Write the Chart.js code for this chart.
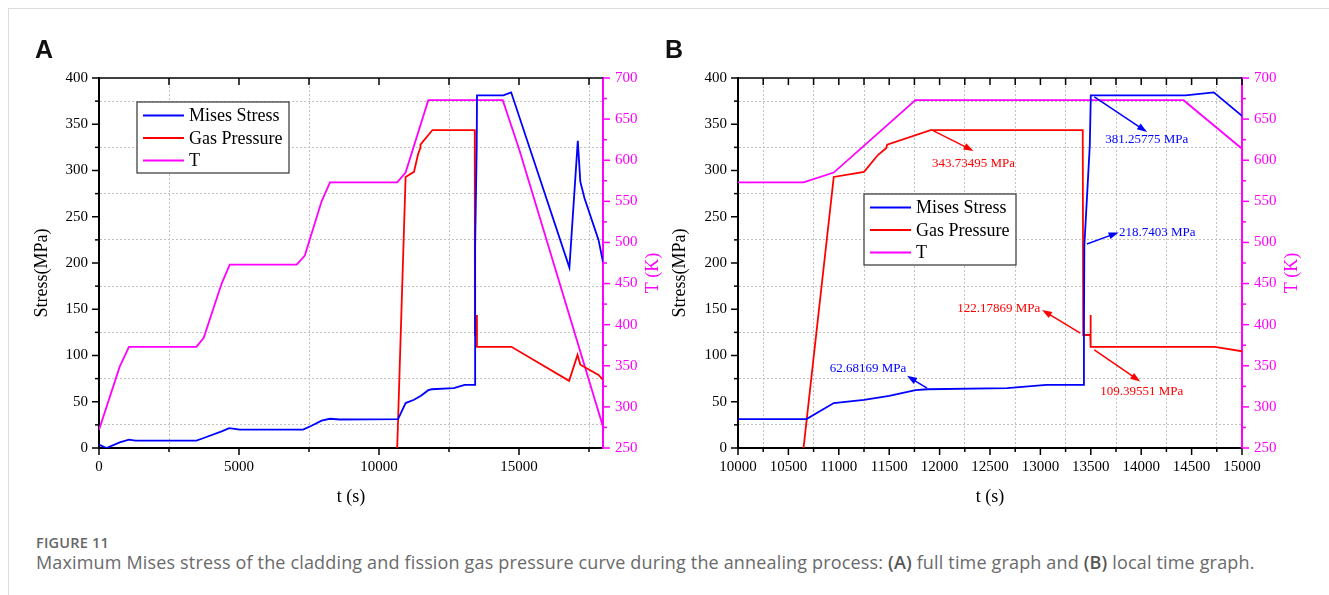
<!DOCTYPE html>
<html>
<head>
<meta charset="utf-8">
<script src="https://cdn.jsdelivr.net/npm/chart.js@4.4.0/dist/chart.umd.min.js"></script>
<style>
  body { margin: 0; background: #fff; width: 1329px; height: 595px; position: relative; overflow: hidden; }
  #frame { position: absolute; left: 8px; top: 8px; right: 0; bottom: 0; border-left: 1px solid #dcdcdc; border-top: 1px solid #dcdcdc; }
  canvas { position: absolute; top: 0; }
  #chartA { left: 0; }
  #chartB { left: 664px; }
  .letter { position: absolute; top: 37px; font: bold 25px "Liberation Sans", Arial, sans-serif; color: #111; line-height: 25px; }
  #figlabel { position: absolute; left: 36px; top: 534px; font: 600 14.5px "Open Sans", sans-serif; color: #666; line-height: 18px; letter-spacing: 0.2px; }
  #caption { position: absolute; left: 36px; top: 550px; font: 18px "Open Sans", sans-serif; color: #6a6a6a; line-height: 24px; white-space: nowrap; letter-spacing: 0.16px; }
  #caption b { color: #555; font-weight: 600; }
</style>
</head>
<body>
<div id="frame"></div>
<canvas id="chartA" width="664" height="520"></canvas>
<canvas id="chartB" width="665" height="520"></canvas>
<div class="letter" style="left:35px">A</div>
<div class="letter" style="left:665px">B</div>
<div id="figlabel">FIGURE 11</div>
<div id="caption">Maximum Mises stress of the cladding and fission gas pressure curve during the annealing process: <b>(A)</b> full time graph and <b>(B)</b> local time graph.</div>
<script>
// Mises stress (MPa)
var stressTime = [0, 265, 740, 1070, 1300, 3480, 3740, 4380, 4650, 5030, 7290, 7590, 7950, 8250, 8600,
  10680, 10950, 11250, 11500, 11760, 11880, 12670, 13060, 13430, 13432, 13436, 13490, 13500, 14440, 14720,
  16800, 17100, 17190, 17340, 17840, 18000];
var misesStress = [3.6, 0, 6, 9, 7.9, 7.9, 10.8, 18, 21.5, 19.8, 19.8, 24, 29.5, 31.6, 30.8,
  31.3, 48.6, 52.1, 56.4, 62.5, 63.5, 64.8, 68.3, 68.3, 122.2, 218.74, 327, 381.26, 381.3, 384.5,
  195, 332, 288, 270, 225, 201];

// fission gas pressure (MPa)
var gasTime = [10650, 10950, 11250, 11390, 11470, 11480, 11910, 13420, 13425, 13495, 13497, 13500, 14730,
  16790, 17090, 17190, 17840, 18000];
var gasPressure = [0, 293, 298.5, 317, 324, 328, 343.73, 343.73, 122.18, 122.18, 143.9, 109.4, 109.4,
  72.6, 100.7, 90, 79, 73.7];

// temperature (K)
var tempTime = [0, 740, 1070, 3480, 3740, 4380, 4670, 7060, 7350, 7950, 8250, 10650, 10950, 11760, 14420, 15000, 18000];
var temperature = [272, 349, 373, 373, 384, 450, 473, 473, 484, 550, 573, 573, 585, 673, 673, 614, 276];

// callouts in panel B: arrow from [t0,s0] to [t1,s1], text at [tx,sx]
var callouts = [
  { text: '343.73495 MPa', color: '#ff0000', from: [11940, 342.8], to: [12337, 321.2], at: [11925, 307.6], align: 'left' },
  { text: '381.25775 MPa', color: '#0000ff', from: [13535, 379.5], to: [14058, 341.7], at: [13644, 333.5], align: 'left' },
  { text: '218.7403 MPa', color: '#0000ff', from: [13462, 220.5], to: [13776, 233.1], at: [13780, 233], align: 'left' },
  { text: '122.17869 MPa', color: '#ff0000', from: [13396, 124.1], to: [13016, 149.3], at: [12999, 151.1], align: 'right' },
  { text: '109.39551 MPa', color: '#ff0000', from: [13535, 106.1], to: [13991, 71.9], at: [13594, 61.1], align: 'left' },
  { text: '62.68169 MPa', color: '#0000ff', from: [11875, 64.8], to: [11677, 78], at: [11670, 86.3], align: 'right' }
];

var SERIF = '"Liberation Serif", "Times New Roman", serif';
var MAGENTA = '#ff00ff';
Chart.defaults.font.family = SERIF;
Chart.defaults.color = '#000';

function pts(xs, ys) {
  return xs.map(function (x, i) { return { x: x, y: ys[i] }; });
}

// fixed tick positions every `step` between min and max
function fixedTicks(step) {
  return function (s) {
    var list = [];
    for (var v = s.min; v <= s.max + 1e-6; v += step) list.push({ value: v });
    s.ticks = list;
  };
}

// tick marks, top frame line and y-axis titles, drawn Origin style
var originAxes = {
  id: 'originAxes',
  afterDraw: function (chart, args, opts) {
    var ctx = chart.ctx, a = chart.chartArea, sx = chart.scales.x, sy = chart.scales.y, st = chart.scales.yT;
    var seg = function (x1, y1, x2, y2) { ctx.beginPath(); ctx.moveTo(x1, y1); ctx.lineTo(x2, y2); ctx.stroke(); };
    ctx.save();
    ctx.strokeStyle = '#000';
    ctx.lineWidth = 1.5;
    seg(a.left - 1, a.top, a.right, a.top);
    sx.ticks.forEach(function (t) {
      var px = sx.getPixelForValue(t.value);
      seg(px, a.bottom, px, a.bottom + (t.value % opts.xMajor === 0 ? 7 : 4));
      seg(px, a.top, px, a.top + 7);
    });
    sy.ticks.forEach(function (t) {
      var py = sy.getPixelForValue(t.value);
      seg(a.left, py, a.left - (t.value % 50 === 0 ? 7 : 4), py);
    });
    ctx.strokeStyle = MAGENTA;
    st.ticks.forEach(function (t) {
      var py = st.getPixelForValue(t.value);
      seg(a.right, py, a.right + (t.value % 50 === 0 ? 7 : 4), py);
    });
    ctx.font = '18px ' + SERIF;
    ctx.textAlign = 'center';
    ctx.textBaseline = 'middle';
    var cy = (a.top + a.bottom) / 2 + 10;
    ctx.translate(opts.leftTitleX, cy);
    ctx.rotate(-Math.PI / 2);
    ctx.fillStyle = '#000';
    ctx.fillText('Stress(MPa)', 0, 0);
    ctx.rotate(Math.PI / 2);
    ctx.translate(a.right + 50 - opts.leftTitleX, 0);
    ctx.rotate(-Math.PI / 2);
    ctx.fillStyle = MAGENTA;
    ctx.fillText('T (K)', 0, 0);
    ctx.restore();
  }
};

// boxed legend inside the plot
var boxLegend = {
  id: 'boxLegend',
  afterDraw: function (chart, args, opts) {
    var ctx = chart.ctx, a = chart.chartArea;
    var bx = a.left + opts.dx, by = a.top + opts.dy;
    ctx.save();
    ctx.fillStyle = '#fff';
    ctx.fillRect(bx, by, 152, 71);
    ctx.strokeStyle = '#333';
    ctx.lineWidth = 1.2;
    ctx.strokeRect(bx, by, 152, 71);
    ctx.font = '18px ' + SERIF;
    ctx.textBaseline = 'middle';
    ctx.fillStyle = '#000';
    chart.data.datasets.forEach(function (ds, i) {
      var ry = by + 13.5 + i * 22.5;
      ctx.strokeStyle = ds.borderColor;
      ctx.lineWidth = 1.8;
      ctx.beginPath(); ctx.moveTo(bx + 6, ry); ctx.lineTo(bx + 47, ry); ctx.stroke();
      ctx.fillText(ds.label, bx + 52, ry + 1);
    });
    ctx.restore();
  }
};

// value callouts with arrows
var arrowNotes = {
  id: 'arrowNotes',
  afterDatasetsDraw: function (chart, args, opts) {
    if (!opts.items) return;
    var ctx = chart.ctx, sx = chart.scales.x, sy = chart.scales.y;
    ctx.save();
    ctx.font = '13px ' + SERIF;
    ctx.textBaseline = 'middle';
    opts.items.forEach(function (n) {
      var x0 = sx.getPixelForValue(n.from[0]), y0 = sy.getPixelForValue(n.from[1]);
      var x1 = sx.getPixelForValue(n.to[0]), y1 = sy.getPixelForValue(n.to[1]);
      var ang = Math.atan2(y1 - y0, x1 - x0);
      ctx.strokeStyle = n.color;
      ctx.fillStyle = n.color;
      ctx.lineWidth = 1.5;
      ctx.beginPath(); ctx.moveTo(x0, y0);
      ctx.lineTo(x1 - 8 * Math.cos(ang), y1 - 8 * Math.sin(ang)); ctx.stroke();
      ctx.beginPath();
      ctx.moveTo(x1, y1);
      ctx.lineTo(x1 - 10 * Math.cos(ang) + 3.5 * Math.sin(ang), y1 - 10 * Math.sin(ang) - 3.5 * Math.cos(ang));
      ctx.lineTo(x1 - 10 * Math.cos(ang) - 3.5 * Math.sin(ang), y1 - 10 * Math.sin(ang) + 3.5 * Math.cos(ang));
      ctx.closePath(); ctx.fill();
      ctx.textAlign = n.align;
      ctx.fillText(n.text, sx.getPixelForValue(n.at[0]), sy.getPixelForValue(n.at[1]));
    });
    ctx.restore();
  }
};

function buildPanel(id, p) {
  var minorGrid = function (major) {
    return function (c) {
      return c.tick && c.tick.value % major !== 0 ? '#c2c2c2' : 'rgba(0,0,0,0)';
    };
  };
  return new Chart(document.getElementById(id), {
    type: 'line',
    data: {
      datasets: [
        { label: 'Mises Stress', data: pts(stressTime, misesStress), borderColor: '#0000ff', yAxisID: 'y' },
        { label: 'Gas Pressure', data: pts(gasTime, gasPressure), borderColor: '#ff0000', yAxisID: 'y' },
        { label: 'T', data: pts(tempTime, temperature), borderColor: MAGENTA, yAxisID: 'yT' }
      ]
    },
    options: {
      responsive: false,
      animation: false,
      elements: { line: { borderWidth: 1.8, tension: 0 }, point: { radius: 0 } },
      layout: { padding: { top: 78, left: 0, right: 0, bottom: 0 } },
      plugins: {
        legend: { display: false },
        tooltip: { enabled: false },
        originAxes: { xMajor: p.xMajor, leftTitleX: p.leftTitleX },
        boxLegend: { dx: p.legendDx, dy: p.legendDy },
        arrowNotes: { items: p.notes }
      },
      scales: {
        x: {
          type: 'linear', min: p.xMin, max: p.xMax,
          afterBuildTicks: fixedTicks(p.xStep),
          afterFit: function (s) { s.height = 72; },
          ticks: {
            autoSkip: false, maxRotation: 0, minRotation: 0,
            padding: 10, font: { size: 15 }, color: '#000',
            callback: function (v) { return v % p.xMajor === 0 ? String(v) : ''; }
          },
          grid: { drawTicks: false, color: minorGrid(p.xMajor), lineWidth: 1 },
          border: { color: '#000', width: 2, dash: [2, 2] },
          title: { display: true, text: 't (s)', font: { size: 18 }, color: '#000', padding: { top: 0, bottom: 12 } }
        },
        y: {
          position: 'left', min: 0, max: 400,
          afterBuildTicks: fixedTicks(25),
          afterFit: function (s) { s.width = p.leftWidth; },
          ticks: {
            autoSkip: false, padding: 11, font: { size: 15 }, color: '#000',
            callback: function (v) { return v % 50 === 0 ? String(v) : ''; }
          },
          grid: { drawTicks: false, color: minorGrid(50), lineWidth: 1 },
          border: { color: '#000', width: 2, dash: [2, 2] }
        },
        yT: {
          position: 'right', min: 250, max: 700,
          afterBuildTicks: fixedTicks(25),
          afterFit: function (s) { s.width = p.rightWidth; },
          ticks: {
            autoSkip: false, padding: 12, font: { size: 15 }, color: MAGENTA,
            callback: function (v) { return v % 50 === 0 ? String(v) : ''; }
          },
          grid: { drawTicks: false, drawOnChartArea: false },
          border: { color: MAGENTA, width: 2 }
        }
      }
    },
    plugins: [originAxes, boxLegend, arrowNotes]
  });
}

buildPanel('chartA', {
  xMin: 0, xMax: 18000, xStep: 2500, xMajor: 5000,
  leftWidth: 99, rightWidth: 61, leftTitleX: 42,
  legendDx: 38, legendDy: 24, notes: null
});

buildPanel('chartB', {
  xMin: 10000, xMax: 15000, xStep: 250, xMajor: 500,
  leftWidth: 74, rightWidth: 87, leftTitleX: 16,
  legendDx: 126, legendDy: 116, notes: callouts
});
</script>
</body>
</html>
